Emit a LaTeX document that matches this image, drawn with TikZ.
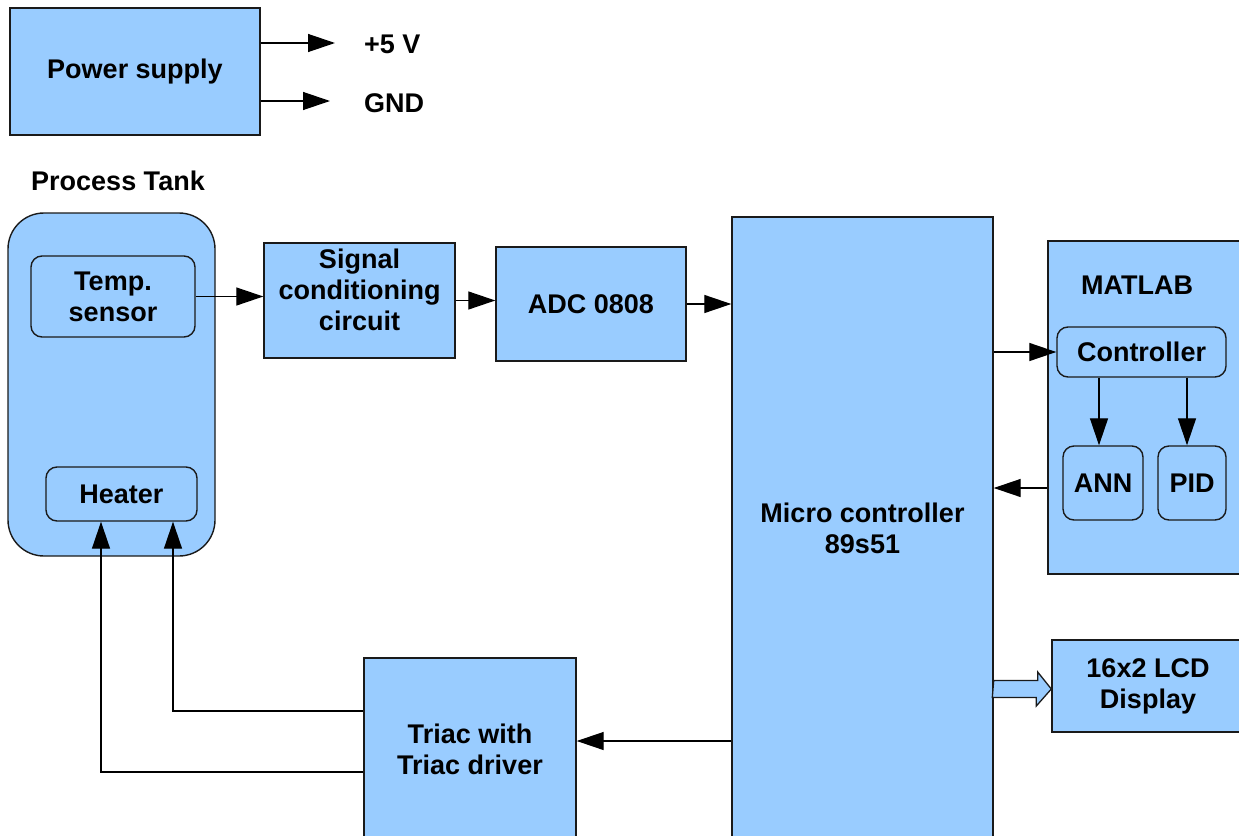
\documentclass[tikz,border=0pt]{standalone}
\usepackage{fontspec}
\setmainfont{Liberation Sans}
\usetikzlibrary{arrows.meta}
\definecolor{boxblue}{HTML}{99CCFF}
\definecolor{edge}{HTML}{1A1A1A}
\tikzset{
  txt/.style={font=\fontsize{27}{31}\selectfont\bfseries, align=center, inner sep=0pt},
  blk/.style={txt, draw=edge, line width=1.4pt, fill=boxblue},
  rblk/.style={blk, rounded corners=11pt},
  conn/.style={line width=1.3pt, draw=black, -{Triangle[length=27pt,width=18pt]}},
  wire/.style={line width=1.3pt, draw=black}
}
\begin{document}
\begin{tikzpicture}[x=1pt,y=-1pt]
\useasboundingbox (0,0) rectangle (1239,835);
\clip (0,0) rectangle (1239,835);
% power supply
\node[blk, minimum width=250pt, minimum height=127pt] (ps) at (135,71.5) {Power supply};
\node[txt, anchor=west] (v5) at (364,44) {+5 V};
\node[txt, anchor=west] (gnd) at (364,103) {GND};
\coordinate (v5end) at (335,43);
\coordinate (gndend) at (330,101);
\draw[conn] (ps.east |- v5end) -- (v5end);
\draw[conn] (ps.east |- gndend) -- (gndend);
% process tank
\node[txt] (pt) at (118,181) {Process Tank};
\node[blk, rounded corners=36pt, minimum width=207pt, minimum height=343pt] (tank) at (111.5,384.5) {};
\node[rblk, minimum width=164pt, minimum height=81pt] (temp) at (113,296.5) {Temp.\\sensor};
\node[rblk, minimum width=151pt, minimum height=54pt] (heater) at (121.5,494) {Heater};
% chain
\node[blk, minimum width=191pt, minimum height=115pt, text depth=22pt] (sig) at (359.5,300.5) {Signal\\conditioning\\circuit};
\node[blk, minimum width=190pt, minimum height=114pt] (adc) at (591,304) {ADC 0808};
\node[blk, minimum width=261pt, minimum height=623pt] (mc) at (862.5,528.5) {Micro controller\\89s51};
% MATLAB
\node[blk, minimum width=202pt, minimum height=333pt] (ml) at (1149,407.5) {};
\node[txt] (mltxt) at (1137,285) {MATLAB};
\node[rblk, minimum width=169pt, minimum height=50pt] (ctrl) at (1141.5,352) {Controller};
\node[rblk, minimum width=80pt, minimum height=74pt] (ann) at (1103,483) {ANN};
\node[rblk, minimum width=68pt, minimum height=74pt] (pid) at (1192,483) {PID};
% LCD
\node[blk, minimum width=192pt, minimum height=92pt] (lcd) at (1148,686) {16x2 LCD\\Display};
% triac
\node[blk, minimum width=212pt, minimum height=182pt] (triac) at (470,749) {Triac with\\Triac driver};
% connectors
\draw[conn] (temp.east) -- (temp.east -| sig.west);
\draw[conn] (sig.east) -- (sig.east -| adc.west);
\draw[conn] (adc.east) -- (adc.east -| mc.west);
\draw[conn] (mc.east |- ctrl.west) -- (ctrl.west);
\draw[conn] ([xshift=-4pt]ctrl.south -| ann.north) -- ([xshift=-4pt]ann.north);
\draw[conn] ([xshift=-5pt]ctrl.south -| pid.north) -- ([xshift=-5pt]pid.north);
\draw[conn] ([yshift=-5pt]ml.west |- ann.center) -- ([yshift=-5pt]mc.east |- ann.center);
\draw[conn] ([yshift=8pt]mc.west |- triac.east) -- ([yshift=8pt]triac.east);
\draw[conn] ([yshift=38pt]triac.west) -| ([xshift=51.5pt]heater.south);
\draw[conn] ([yshift=-23pt]triac.west) -| ([xshift=-20.5pt]heater.south);
% hollow arrow to LCD
\draw[line width=1.3pt, draw=edge, fill=boxblue, line join=miter]
  ([yshift=-3pt]mc.east |- lcd.west) ++(0,-8.5) -- ++(44,0) -- ++(0,-8.5) -- ([yshift=-3pt]lcd.west)
  -- ++(-15,17) -- ++(0,-8.5) -- ++(-44,0) -- cycle;
\end{tikzpicture}
\end{document}
